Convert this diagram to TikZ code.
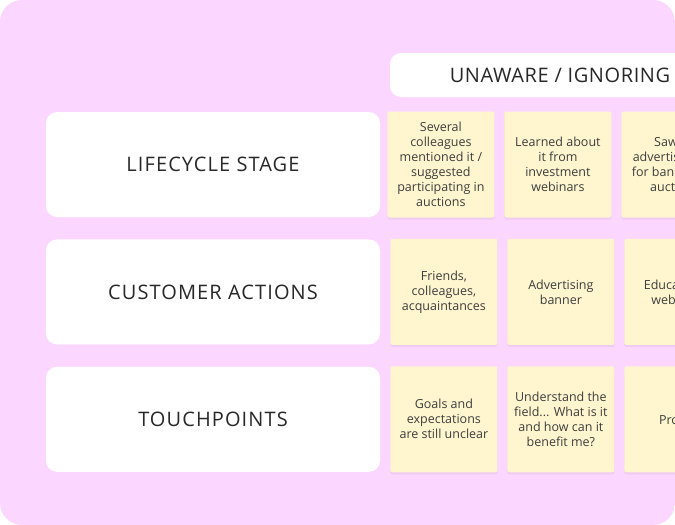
\documentclass[tikz,border=0pt]{standalone}
\usepackage{fontspec}
\setmainfont{Open Sans}
\newfontfamily\widesans[LetterSpace=5.5]{Open Sans}
\newfontfamily\headsans[LetterSpace=3]{Open Sans}
\usetikzlibrary{positioning, shadows}
\definecolor{bgpink}{RGB}{251,215,255}
\definecolor{notey}{RGB}{255,246,208}
\definecolor{inkgray}{RGB}{40,40,40}
\tikzstyle{stage} = [rectangle, rounded corners=11pt, fill=white, minimum width=334pt, minimum height=105pt, text=inkgray, font=\widesans\fontsize{20}{24}\selectfont]
\tikzstyle{phase} = [rectangle, rounded corners=11pt, fill=white, minimum width=340pt, minimum height=44pt, text=inkgray, font=\headsans\fontsize{20}{24}\selectfont]
\tikzstyle{sticky} = [rectangle, rounded corners=2pt, fill=notey, minimum width=107pt, minimum height=106pt, align=center, text=inkgray!90, font=\fontsize{12.5}{15}\selectfont, drop shadow={shadow xshift=0pt, shadow yshift=-2pt, opacity=0.35, fill=violet!30}]

\begin{document}
\begin{tikzpicture}[x=1pt, y=-1pt, node distance=10pt]
    \clip[rounded corners=22pt] (0,0) rectangle (675,525);
    \fill[bgpink] (0,0) rectangle (675,525);

    \node (unaware) [phase] at (560,75) {UNAWARE / IGNORING};

    \node (lifecycle) [stage] at (213,164.5) {LIFECYCLE STAGE};
    \node (actions) [stage, below=22pt of lifecycle] {CUSTOMER ACTIONS};
    \node (touchpoints) [stage, below=22pt of actions] {TOUCHPOINTS};

    \node (ls1) [sticky, right=7pt of lifecycle] {Several\\colleagues\\mentioned it /\\suggested\\participating in\\auctions};
    \node (ls2) [sticky, right of=ls1, node distance=117pt] {Learned about\\it from\\investment\\webinars};
    \node (ls3) [sticky, right of=ls2, node distance=117pt] {Saw an\\advertisement\\for bankruptcy\\auctions};

    \node (ca1) [sticky, right=10pt of actions] {Friends,\\colleagues,\\acquaintances};
    \node (ca2) [sticky, right of=ca1, node distance=117pt] {Advertising\\banner};
    \node (ca3) [sticky, right of=ca2, node distance=117pt] {Educational\\webinars};

    \node (tp1) [sticky, right=10pt of touchpoints] {Goals and\\expectations\\are still unclear};
    \node (tp2) [sticky, right of=tp1, node distance=117pt] {Understand the\\field... What is it\\and how can it\\benefit me?};
    \node (tp3) [sticky, right of=tp2, node distance=117pt] {Profits};
\end{tikzpicture}
\end{document}
